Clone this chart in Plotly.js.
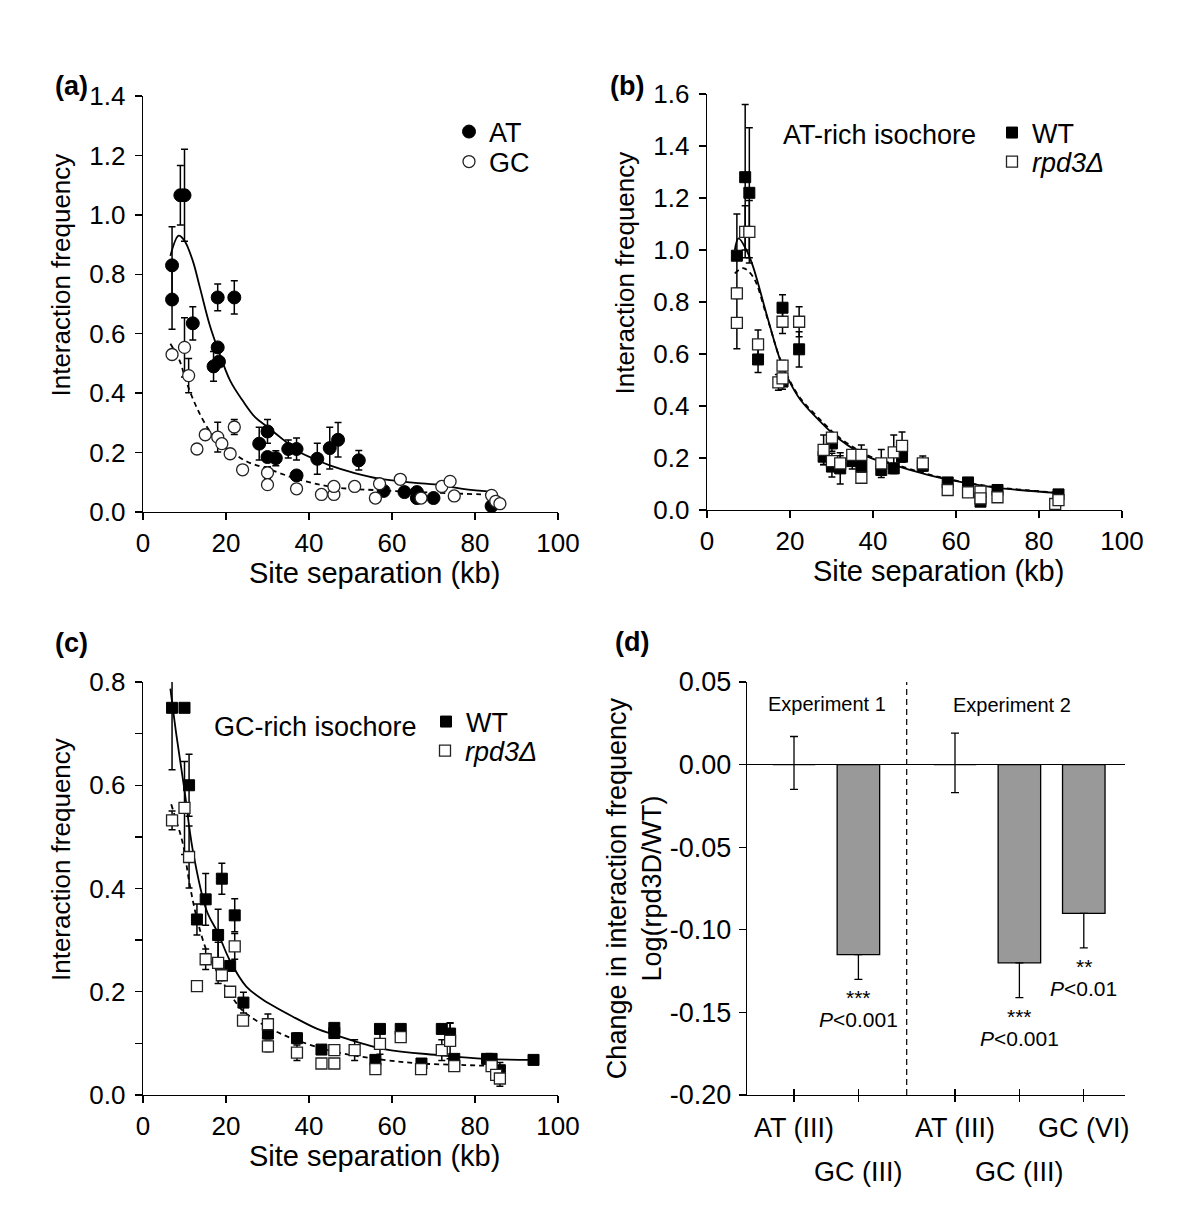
<!DOCTYPE html>
<html>
<head>
<meta charset="utf-8">
<script src="https://cdn.plot.ly/plotly-3.0.1.min.js"></script>
<style>html,body{margin:0;padding:0;background:#fff;}#chart{width:1200px;height:1215px;}</style>
</head>
<body>
<div id="chart"></div>
<script>
// ---------- Panel (a): AT vs GC ----------
const aAT_x   = [7, 7, 9, 10, 12, 18, 22, 18, 17, 18.3, 28, 30, 30, 32, 35, 37, 37, 42, 45, 47, 52, 58, 63, 66, 66, 70, 84];
const aAT_y   = [0.83, 0.715, 1.066, 1.066, 0.635, 0.722, 0.722, 0.554, 0.49, 0.506, 0.23, 0.271, 0.185, 0.181, 0.212, 0.212, 0.123, 0.179, 0.215, 0.243, 0.174, 0.071, 0.067, 0.067, 0.047, 0.047, 0.02];
const aAT_err = [0.13, 0.10, 0.10, 0.155, 0.056, 0.045, 0.056, 0, 0.05, 0.01, 0.055, 0.04, 0.01, 0.025, 0.03, 0.037, 0, 0.052, 0.07, 0.058, 0.033, 0, 0, 0, 0, 0, 0];
const aGC_x   = [7, 10, 11, 13, 15, 18, 19, 21, 22, 24, 30, 30, 37, 43, 46, 46, 51, 56, 57, 62, 67, 72, 74, 75, 84, 85, 86];
const aGC_y   = [0.53, 0.554, 0.459, 0.212, 0.26, 0.252, 0.23, 0.196, 0.286, 0.142, 0.132, 0.092, 0.078, 0.059, 0.059, 0.086, 0.086, 0.047, 0.095, 0.11, 0.047, 0.086, 0.103, 0.054, 0.056, 0.036, 0.028];
const aGC_err = [0.015, 0.1, 0.058, 0, 0.012, 0.05, 0, 0, 0.025, 0, 0.02, 0, 0, 0, 0, 0.01, 0, 0, 0.01, 0, 0, 0.01, 0.01, 0, 0, 0, 0];
const aFitAT_x = [6.6, 8.6, 10, 12, 13.7, 16, 18, 21, 24, 27, 30, 34, 37, 42, 45, 51, 57, 65, 72, 77, 85];
const aFitAT_y = [0.862, 0.93, 0.913, 0.845, 0.756, 0.633, 0.55, 0.442, 0.375, 0.319, 0.286, 0.241, 0.207, 0.174, 0.157, 0.131, 0.112, 0.099, 0.09, 0.078, 0.067];
const aFitGC_x = [6.6, 8.8, 10.4, 12.9, 15.7, 18, 20.9, 25, 30, 37, 45.8, 57, 70, 85];
const aFitGC_y = [0.566, 0.51, 0.44, 0.353, 0.28, 0.24, 0.207, 0.17, 0.146, 0.112, 0.084, 0.073, 0.065, 0.058];

// ---------- Panel (b): AT-rich isochore, WT vs rpd3 ----------
const bWT_x   = [7.2, 9.2, 10.2, 12.3, 18.2, 22.2, 18.2, 28.1, 30.1, 30.1, 32.1, 35, 37.2, 42, 45, 47, 52, 58, 62.9, 65.9, 70, 84.7];
const bWT_y   = [0.978, 1.28, 1.22, 0.579, 0.778, 0.618, 0.494, 0.205, 0.256, 0.167, 0.16, 0.188, 0.167, 0.154, 0.16, 0.205, 0.17, 0.106, 0.106, 0.032, 0.077, 0.06];
const bWT_err = [0.16, 0.28, 0.25, 0.05, 0.05, 0.068, 0.03, 0.03, 0.03, 0.04, 0.06, 0.03, 0.03, 0.02, 0.02, 0.02, 0.01, 0, 0.01, 0, 0, 0];
const bRP_x   = [7.2, 7.2, 9.2, 10.2, 12.3, 18.2, 22.2, 18.2, 17.2, 18.2, 28.1, 30.1, 30.1, 32.1, 35, 37.2, 37.2, 42, 45, 47, 52, 58, 62.9, 65.9, 65.9, 70, 83.9, 84.7];
const bRP_y   = [0.833, 0.72, 1.07, 1.07, 0.637, 0.724, 0.724, 0.555, 0.491, 0.506, 0.231, 0.278, 0.188, 0.179, 0.212, 0.212, 0.124, 0.179, 0.222, 0.247, 0.179, 0.077, 0.068, 0.071, 0.045, 0.049, 0.023, 0.038];
const bRP_err = [0.02, 0.1, 0.1, 0.12, 0.055, 0.045, 0.058, 0.02, 0.03, 0.02, 0.057, 0.015, 0.03, 0.03, 0.02, 0.038, 0, 0.054, 0.066, 0.053, 0.029, 0, 0, 0, 0, 0, 0, 0];
const bFitWT_x = [6.7, 7.6, 9.5, 11.1, 14.3, 17.5, 19.6, 22.4, 28, 32, 38.5, 43.3, 54.7, 62.6, 70.6, 84.9];
const bFitWT_y = [1.0, 1.045, 1.0, 0.936, 0.756, 0.583, 0.503, 0.426, 0.329, 0.271, 0.206, 0.181, 0.129, 0.103, 0.084, 0.065];
const bFitRP_x = [6.7, 8.7, 11.1, 14.3, 17.5, 19.6, 22.4, 28, 32, 38.5, 43.3, 54.7, 62.6, 70.6, 84.9];
const bFitRP_y = [0.91, 0.93, 0.897, 0.75, 0.585, 0.508, 0.432, 0.336, 0.277, 0.212, 0.185, 0.132, 0.105, 0.086, 0.066];

// ---------- Panel (c): GC-rich isochore, WT vs rpd3 ----------
const cWT_x   = [7, 10, 11.1, 13, 15.1, 19, 18.1, 22.1, 21, 24.2, 30.1, 37.1, 43, 46.1, 46.1, 56, 57.1, 62.1, 67.1, 72, 74, 75, 82.9, 84, 86, 94.1];
const cWT_y   = [0.75, 0.75, 0.6, 0.34, 0.379, 0.419, 0.31, 0.348, 0.25, 0.179, 0.119, 0.11, 0.088, 0.13, 0.12, 0.068, 0.128, 0.128, 0.061, 0.128, 0.119, 0.07, 0.07, 0.07, 0.048, 0.068];
const cWT_err = [0.12, 0.005, 0.06, 0.03, 0.05, 0.03, 0.05, 0.032, 0, 0.02, 0.01, 0.01, 0, 0, 0.01, 0, 0, 0, 0, 0, 0.02, 0, 0, 0, 0.015, 0];
const cRP_x   = [7, 10, 11.1, 13, 15.1, 18.1, 19, 21, 22.1, 24.1, 30.1, 30.1, 37.1, 43, 46.1, 46.1, 51, 56, 57.1, 62.1, 67, 72, 74, 75, 84, 85.1, 86];
const cRP_y   = [0.532, 0.556, 0.461, 0.211, 0.263, 0.256, 0.232, 0.2, 0.288, 0.144, 0.137, 0.094, 0.082, 0.061, 0.087, 0.061, 0.087, 0.05, 0.099, 0.112, 0.05, 0.087, 0.105, 0.056, 0.056, 0.039, 0.032];
const cRP_err = [0.018, 0.09, 0.06, 0.01, 0.02, 0.04, 0.01, 0, 0.025, 0, 0.02, 0.01, 0.015, 0, 0.01, 0, 0.02, 0, 0.02, 0.01, 0, 0.02, 0.035, 0, 0, 0, 0.015];
const cFitWT_x = [6.6, 8, 10, 12, 15.3, 18.1, 20.9, 24.9, 29, 37, 42, 46, 58, 71.7, 82.3, 94];
const cFitWT_y = [0.787, 0.7, 0.59, 0.474, 0.358, 0.313, 0.261, 0.21, 0.184, 0.148, 0.128, 0.117, 0.089, 0.077, 0.07, 0.068];
const cFitRP_x = [6.8, 8, 9.6, 11.2, 12.9, 15.3, 18.1, 20.9, 24.1, 30.6, 37.1, 46.1, 58, 67, 77.4, 85];
const cFitRP_y = [0.563, 0.532, 0.487, 0.41, 0.345, 0.28, 0.235, 0.197, 0.163, 0.129, 0.106, 0.084, 0.068, 0.061, 0.058, 0.056];

// ---------- Panel (d): log ratio bars ----------
const dCategories = ['AT (III)', 'GC (III)', 'AT (III)', 'GC (III)', 'GC (VI)'];
const dExperiment = [1, 1, 2, 2, 2];
const dValues     = [0, -0.115, 0, -0.12, -0.09];
const dErrPlus    = [0.017, 0, 0.019, 0, 0];
const dErrMinus   = [0.015, 0.015, 0.017, 0.021, 0.021];
const dStars      = ['', '***', '', '***', '**'];
const dPText      = ['', '<i>P</i><0.001', '', '<i>P</i><0.001', '<i>P</i><0.01'];
const dYTicks     = [0.05, 0, -0.05, -0.10, -0.15, -0.20];
const dYTickText  = ['0.05', '0.00', '-0.05', '-0.10', '-0.15', '-0.20'];

// ---------- layout helpers ----------
const W = 1200, H = 1215;
const FONT = 'Liberation Sans, Arial, Helvetica, sans-serif';
const px = v => v / W;
const py = v => 1 - v / H;
const dPos = dCategories.map((c, i) => i + (dExperiment[i] - 1) * 0.5);
const dRow = dCategories.map(c => c.startsWith('GC (III)') ? 1 : 0);
const NB = '&nbsp;';

const errStyle = (arr) => ({type: 'data', array: arr, visible: true, color: '#000', thickness: 1.5, width: 3.5});
const filled = (sym, size) => ({symbol: sym, size: size, color: '#000', line: {color: '#000', width: 1}});
const open = (sym, size) => ({symbol: sym, size: size, color: '#fff', line: {color: '#222', width: 1.3}});
const solidLine = {color: '#000', width: 1.8, shape: 'spline', smoothing: 1};
const dashLine = {color: '#000', width: 1.8, dash: '5px,4px', shape: 'spline', smoothing: 1};

const traces = [
  // (a)
  {x: aFitAT_x, y: aFitAT_y, mode: 'lines', line: solidLine, xaxis: 'x', yaxis: 'y', showlegend: false, hoverinfo: 'skip'},
  {x: aFitGC_x, y: aFitGC_y, mode: 'lines', line: dashLine, xaxis: 'x', yaxis: 'y', showlegend: false, hoverinfo: 'skip'},
  {x: aAT_x, y: aAT_y, mode: 'markers', name: 'AT', marker: filled('circle', 13), error_y: errStyle(aAT_err), xaxis: 'x', yaxis: 'y', legend: 'legend', cliponaxis: false},
  {x: aGC_x, y: aGC_y, mode: 'markers', name: 'GC', marker: open('circle', 12), error_y: errStyle(aGC_err), xaxis: 'x', yaxis: 'y', legend: 'legend2', cliponaxis: false},
  // (b)
  {x: bFitWT_x, y: bFitWT_y, mode: 'lines', line: solidLine, xaxis: 'x2', yaxis: 'y2', showlegend: false, hoverinfo: 'skip'},
  {x: bFitRP_x, y: bFitRP_y, mode: 'lines', line: dashLine, xaxis: 'x2', yaxis: 'y2', showlegend: false, hoverinfo: 'skip'},
  {x: bWT_x, y: bWT_y, mode: 'markers', name: 'WT', marker: filled('square', 11), error_y: errStyle(bWT_err), xaxis: 'x2', yaxis: 'y2', legend: 'legend3', cliponaxis: false},
  {x: bRP_x, y: bRP_y, mode: 'markers', name: '<i>rpd3Δ</i>', marker: open('square', 11), error_y: errStyle(bRP_err), xaxis: 'x2', yaxis: 'y2', legend: 'legend4', cliponaxis: false},
  // (c)
  {x: cFitWT_x, y: cFitWT_y, mode: 'lines', line: solidLine, xaxis: 'x3', yaxis: 'y3', showlegend: false, hoverinfo: 'skip'},
  {x: cFitRP_x, y: cFitRP_y, mode: 'lines', line: dashLine, xaxis: 'x3', yaxis: 'y3', showlegend: false, hoverinfo: 'skip'},
  {x: cWT_x, y: cWT_y, mode: 'markers', name: 'WT', marker: filled('square', 11), error_y: errStyle(cWT_err), xaxis: 'x3', yaxis: 'y3', legend: 'legend5', cliponaxis: false},
  {x: cRP_x, y: cRP_y, mode: 'markers', name: '<i>rpd3Δ</i>', marker: open('square', 11), error_y: errStyle(cRP_err), xaxis: 'x3', yaxis: 'y3', legend: 'legend6', cliponaxis: false},
  // (d)
  {type: 'bar', x: dPos, y: dValues, width: 0.66, xaxis: 'x4', yaxis: 'y4', showlegend: false,
   marker: {color: '#999999', line: {color: '#000', width: 1.3}},
   error_y: {type: 'data', symmetric: false, array: dErrPlus, arrayminus: dErrMinus, visible: true, color: '#000', thickness: 1.3, width: 4}},
  {x: [], y: [], xaxis: 'x5', yaxis: 'y4', showlegend: false}
];

const tickFont = {family: FONT, size: 26, color: '#000'};
const tickFontD = {family: FONT, size: 27, color: '#000'};
const xTitleFont = {family: FONT, size: 29, color: '#000'};
const yTitleFont = {family: FONT, size: 26, color: '#000'};
const xTitleText = NB.repeat(6) + 'Site separation (kb)';
const yTitleText = NB.repeat(8) + 'Interaction frequency';
const baseX = (dom, anchor) => ({domain: dom, anchor: anchor, range: [0, 100], dtick: 20, tick0: 0,
  ticks: 'outside', ticklen: 7, tickwidth: 1.3, tickcolor: '#000', showline: true, linecolor: '#000', linewidth: 1.3,
  showgrid: false, zeroline: false, tickfont: tickFont, fixedrange: true,
  title: {text: xTitleText, font: xTitleFont, standoff: 6}});
const baseY = (dom, anchor, range, extra) => Object.assign({domain: dom, anchor: anchor, range: range, dtick: 0.2, tick0: 0, tickformat: '.1f',
  ticks: 'outside', ticklen: 7, tickwidth: 1.3, tickcolor: '#000', showline: true, linecolor: '#000', linewidth: 1.3,
  showgrid: false, zeroline: false, tickfont: tickFont, ticklabelstandoff: 4, fixedrange: true,
  title: {text: yTitleText, font: yTitleFont, standoff: 11}}, extra || {});

const legendBase = (x, y) => ({x: px(x), y: py(y), xanchor: 'left', yanchor: 'middle', bgcolor: 'rgba(0,0,0,0)',
  borderwidth: 0, font: {family: FONT, size: 27, color: '#000'}, itemwidth: 30, tracegroupgap: 0});

const txt = (text, x, y, size, extra) => Object.assign({text: text, xref: 'paper', yref: 'paper', x: px(x), y: py(y),
  showarrow: false, xanchor: 'center', yanchor: 'middle', font: {family: FONT, size: size, color: '#000'}}, extra || {});

const annotations = [
  txt('<b>(a)</b>', 71, 86, 27),
  txt('<b>(b)</b>', 627, 86, 27),
  txt('<b>(c)</b>', 71, 643, 27),
  txt('<b>(d)</b>', 632, 642, 27),
  txt('AT-rich isochore', 880, 135, 27),
  txt('GC-rich isochore', 315, 727, 27),
  txt('Experiment 1', 827, 704, 20),
  txt('Experiment 2', 1012, 705, 20)
];
// lower-row category labels of (d)
dCategories.forEach((c, i) => {
  if (dRow[i] === 1) {
    annotations.push({text: c, xref: 'x4', yref: 'paper', x: dPos[i], y: py(1172), showarrow: false,
      xanchor: 'center', yanchor: 'middle', font: tickFontD});
  }
});
// significance labels of (d), placed below each bar's error bar
dCategories.forEach((c, i) => {
  if (!dStars[i]) return;
  const base = dValues[i] - dErrMinus[i];
  annotations.push({text: dStars[i], xref: 'x4', yref: 'y4', x: dPos[i], y: base, yshift: -5, showarrow: false,
    xanchor: 'center', yanchor: 'top', font: {family: FONT, size: 21, color: '#000'}});
  annotations.push({text: dPText[i], xref: 'x4', yref: 'y4', x: dPos[i], y: base, yshift: -27, showarrow: false,
    xanchor: 'center', yanchor: 'top', font: {family: FONT, size: 21, color: '#000'}});
});

const dDividerX = (dPos[1] + dPos[2]) / 2;
const dRange = [-0.73, 5.14];

const layout = {
  width: W, height: H,
  margin: {l: 0, r: 0, t: 0, b: 0},
  paper_bgcolor: '#fff', plot_bgcolor: 'rgba(0,0,0,0)',
  font: {family: FONT, color: '#000'},
  hovermode: false,
  xaxis: baseX([px(143), px(558)], 'y'),
  yaxis: baseY([py(512), py(96)], 'x', [0, 1.4]),
  xaxis2: baseX([px(707), px(1122)], 'y2'),
  yaxis2: baseY([py(510), py(94)], 'x2', [0, 1.6]),
  xaxis3: baseX([px(143), px(558)], 'y3'),
  yaxis3: baseY([py(1095), py(682)], 'x3', [0, 0.8], {minor: {dtick: 0.1, ticks: 'outside', ticklen: 7, tickwidth: 1.3, tickcolor: '#000'}}),
  xaxis4: {domain: [px(747), px(1125)], anchor: 'y4', range: dRange, tickmode: 'array', tickvals: dPos,
    ticktext: dCategories.map((c, i) => dRow[i] === 0 ? c : ''),
    ticks: 'outside', ticklen: 6, tickwidth: 1.3, tickcolor: '#000', showline: true, linecolor: '#000', linewidth: 1.3,
    showgrid: false, zeroline: false, tickfont: tickFontD, ticklabelstandoff: 2, fixedrange: true},
  xaxis5: {domain: [px(747), px(1125)], anchor: 'y4', overlaying: 'x4', range: dRange, tickmode: 'array', tickvals: dPos,
    ticks: 'inside', ticklen: 6, tickwidth: 1.3, tickcolor: '#000', showline: false, showticklabels: false,
    showgrid: false, zeroline: false, fixedrange: true},
  yaxis4: {domain: [py(1095), py(682)], anchor: 'x4', range: [-0.2, 0.05], tickmode: 'array', tickvals: dYTicks, ticktext: dYTickText,
    ticks: 'outside', ticklen: 7, tickwidth: 1.3, tickcolor: '#000', showline: true, linecolor: '#000', linewidth: 1.3,
    showgrid: false, zeroline: true, zerolinecolor: '#000', zerolinewidth: 1.3, tickfont: tickFontD, ticklabelstandoff: 2, fixedrange: true,
    title: {text: 'Change in interaction frequency<br>Log(rpd3D/WT)', font: {family: FONT, size: 27, color: '#000'}, standoff: 0}},
  legend: legendBase(449, 132),
  legend2: legendBase(449, 162),
  legend3: legendBase(992, 133),
  legend4: legendBase(992, 162),
  legend5: legendBase(426, 722),
  legend6: legendBase(425, 751),
  shapes: [
    {type: 'line', xref: 'x4', yref: 'y4 domain', x0: dDividerX, x1: dDividerX, y0: 0, y1: 1,
     line: {color: '#000', width: 1.2, dash: '6px,4px'}}
  ],
  annotations: annotations
};

Plotly.newPlot('chart', traces, layout, {staticPlot: true, displayModeBar: false});
</script>
</body>
</html>
